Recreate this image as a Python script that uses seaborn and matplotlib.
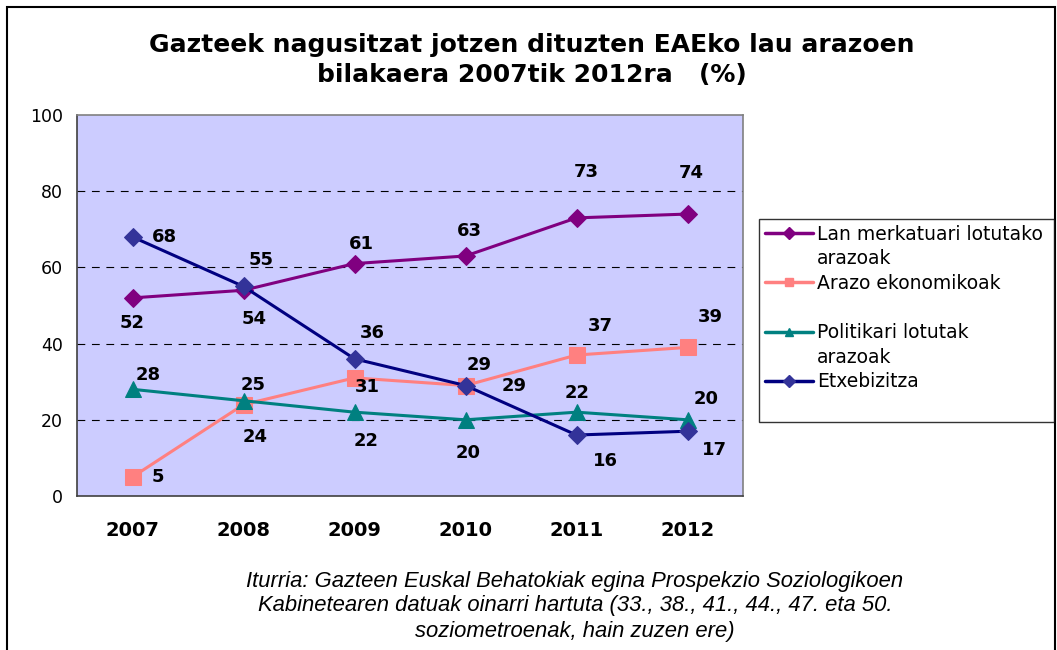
import matplotlib.pyplot as plt
import seaborn as sns
import pandas as pd
from matplotlib.patches import Rectangle
from matplotlib.lines import Line2D
from matplotlib import font_manager

# datuak
years = ["2007", "2008", "2009", "2010", "2011", "2012"]
lan = [52, 54, 61, 63, 73, 74]
arazo = [5, 24, 31, 29, 37, 39]
politikari = [28, 25, 22, 20, 22, 20]
etxe = [68, 55, 36, 29, 16, 17]
series_names = ["Lan merkatuari lotutako arazoak", "Arazo ekonomikoak",
                "Politikari lotutak arazoak", "Etxebizitza"]
# legendako lerroak (bi lerro serie bakoitzeko)
legend_lines = [("Lan merkatuari lotutako", "arazoak"), ("Arazo ekonomikoak", ""),
                ("Politikari lotutak", "arazoak"), ("Etxebizitza", "")]

title = "Gazteek nagusitzat jotzen dituzten EAEko lau arazoen\nbilakaera 2007tik 2012ra   (%)"
source = ("Iturria: Gazteen Euskal Behatokiak egina Prospekzio Soziologikoen\n"
          "Kabinetearen datuak oinarri hartuta (33., 38., 41., 44., 47. eta 50.\n"
          "soziometroenak, hain zuzen ere)")

# estiloak
styles = [
    dict(color="#800080", mfc="#800080", marker="D", ms=9),
    dict(color="#FF8080", mfc="#FF8080", marker="s", ms=12),
    dict(color="#008080", mfc="#008080", marker="^", ms=12),
    dict(color="#000080", mfc="#333399", marker="D", ms=9.5),
]
# etiketen desplazamendua (pixel)
offsets = [
    [(0, -25), (11, -29), (7, 20), (4, 25), (10, 46), (4, 41)],
    [(25, 0), (12, -32), (13, -9), (49, 0), (24, 29), (23, 30)],
    [(16, 14), (10, 16), (12, -29), (3, -33), (1, 19), (19, 21)],
    [(32, 0), (18, 26), (18, 26), (14, 21), (29, -26), (27, -19)],
]

values = [lan, arazo, politikari, etxe]
rows = []
for name, vals in zip(series_names, values):
    for i, v in enumerate(vals):
        rows.append({"series": name, "pos": i, "value": v})
df = pd.DataFrame(rows)

sns.set_style("white")
plt.rcParams["font.family"] = ["DejaVu Sans"]
plt.rcParams["text.color"] = "black"
plt.rcParams["xtick.color"] = "black"
plt.rcParams["ytick.color"] = "black"

fig = plt.figure(figsize=(10.57, 6.5), dpi=100)
ax = fig.add_axes([77 / 1057, 1 - 496 / 650, (743 - 77) / 1057, (496 - 115) / 650])
ax.set_facecolor("#CCCCFF")

for name, st in zip(series_names, styles):
    sub = df[df["series"] == name]
    sns.lineplot(data=sub, x="pos", y="value", ax=ax, color=st["color"],
                 linewidth=2.2, marker=st["marker"], markersize=st["ms"],
                 markerfacecolor=st["mfc"], markeredgecolor=st["mfc"],
                 legend=False, zorder=3)

for name, vals, offs in zip(series_names, values, offsets):
    for i, v in enumerate(vals):
        dx, dy = offs[i]
        ax.annotate(str(v), (i, v), xytext=(dx * 0.72, dy * 0.72),
                    textcoords="offset points", ha="center", va="center",
                    fontsize=13, fontweight="bold", zorder=5)

ax.set_xlim(-0.5, 5.5)
ax.set_ylim(0, 100)
ax.set_yticks(range(0, 101, 20))
ax.set_xticks(range(len(years)))
ax.set_xticklabels(years, fontsize=14, fontweight="bold")
ax.set_xticks([i - 0.5 for i in range(len(years) + 1)], minor=True)
ax.tick_params(axis="x", which="major", length=0, pad=18)
ax.tick_params(axis="x", which="minor", length=4, width=1, color="#404040", direction="out")
ax.tick_params(axis="y", length=4, width=1, color="#404040", direction="out", labelsize=12.5, pad=6)
ax.set_xlabel("")
ax.set_ylabel("")
for y in [20, 40, 60, 80]:
    ax.axhline(y, color="black", lw=0.8, ls=(0, (7, 6)), zorder=1)
ax.spines["left"].set_color("#404040")
ax.spines["bottom"].set_color("#404040")
ax.spines["top"].set_color("#808080")
ax.spines["right"].set_color("#808080")
for s in ax.spines.values():
    s.set_linewidth(1.2)

# legenda
handles, labels = [], []
for (l1, l2), st in zip(legend_lines, styles):
    handles.append(Line2D([], [], color=st["color"], lw=2.5, marker=st["marker"],
                          ms=6, mfc=st["mfc"], mec=st["mfc"]))
    labels.append(l1)
    handles.append(Line2D([], [], lw=0, alpha=0))
    labels.append(l2 if l2 else " ")
x0, x1, y0, y1 = 759 / 1057, 1054 / 1057, 1 - 420 / 650, 1 - 219 / 650
leg = fig.legend(handles, labels, loc="upper left",
                 bbox_to_anchor=(x0, y0, x1 - x0, y1 - y0),
                 mode="expand", borderaxespad=0, fontsize=13.5, frameon=True, fancybox=False,
                 handlelength=2.6, handletextpad=0.2, labelspacing=0.3, borderpad=0.3)
leg.get_frame().set_edgecolor("black")
leg.get_frame().set_linewidth(1)

fig.text(532 / 1057, 1 - 60 / 650, title, ha="center", va="center",
         fontsize=18, fontweight="bold", linespacing=1.28)

names = {f.name for f in font_manager.fontManager.ttflist}
if "Liberation Sans Narrow" in names:
    src_kw = dict(family="Liberation Sans Narrow", fontsize=15.8)
else:
    src_kw = dict(family="Liberation Sans", fontsize=15.8)
fig.text(575 / 1057, 1 - 606 / 650, source, ha="center", va="center",
         style="italic", linespacing=1.25, **src_kw)

fig.add_artist(Rectangle((7 / 1057, -0.01), 1 - 9 / 1057, 1 - 7 / 650 + 0.01,
                         transform=fig.transFigure, fill=False, ec="black", lw=1.5))

fig.savefig("out.png", dpi=100)
